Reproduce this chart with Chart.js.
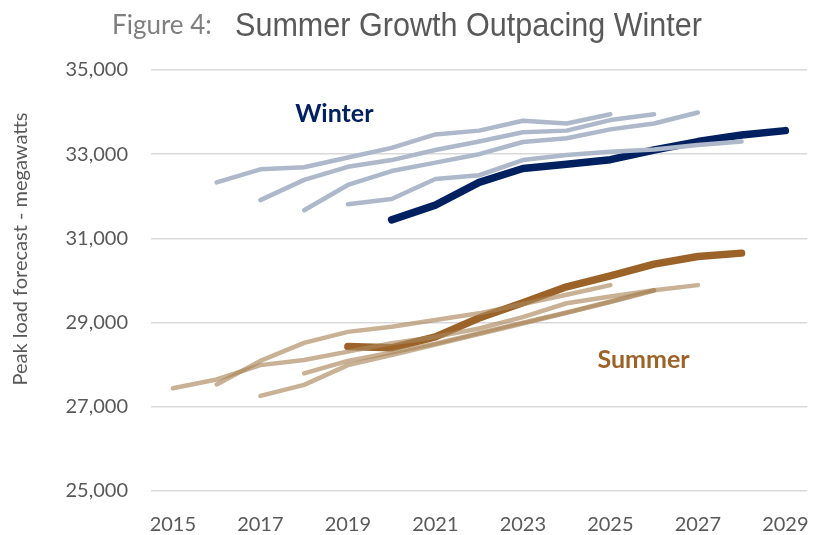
<!DOCTYPE html>
<html>
<head>
<meta charset="utf-8">
<script src="https://cdn.jsdelivr.net/npm/chart.js@4"></script>
<style>
  html, body { margin: 0; padding: 0; background: #fff; }
  #wrap { width: 823px; height: 535px; position: relative; }
</style>
</head>
<body>
<div id="wrap"><canvas id="myChart" width="823" height="535"></canvas></div>
<script>
// years on the x axis
var years = [2015, 2016, 2017, 2018, 2019, 2020, 2021, 2022, 2023, 2024, 2025, 2026, 2027, 2028, 2029];

// winter forecasts (start year, values)
var winter2016 = [32330, 32640, 32690, 32920, 33150, 33470, 33560, 33795, 33730, 33950];
var winter2017 = [31910, 32390, 32700, 32860, 33100, 33300, 33520, 33560, 33810, 33950];
var winter2018 = [31670, 32270, 32600, 32800, 33000, 33290, 33380, 33590, 33730, 33990];
var winter2019 = [31810, 31935, 32410, 32500, 32860, 32980, 33060, 33110, 33220, 33300];
var winter2020 = [31440, 31790, 32330, 32660, 32760, 32870, 33100, 33300, 33455, 33560];

// summer forecasts
var summer2015 = [27440, 27650, 27990, 28110, 28310, 28510, 28660, 28860, 29130, 29460, 29620, 29770];
var summer2016 = [27530, 28090, 28520, 28780, 28900, 29060, 29220, 29440, 29660, 29890];
var summer2017 = [27260, 27520, 27990, 28230, 28480, 28730, 28980, 29230, 29490, 29760];
var summer2018 = [27795, 28090, 28290, 28500, 28750, 29000, 29240, 29500, 29770, 29890];
var summer2019 = [28430, 28400, 28660, 29110, 29470, 29850, 30110, 30390, 30570, 30650];

var yTicks = [25000, 27000, 29000, 31000, 33000, 35000];

function pad(start, vals) {
  return years.map(function (y) {
    var i = y - start;
    return (i >= 0 && i < vals.length) ? vals[i] : null;
  });
}

var winterLight = '#adb9ca';
var winterDark = '#002060';
var summerLight = 'rgba(170,135,90,0.65)';
var summerDark = '#9c6329';

function line(data, color, width) {
  return {
    data: data,
    borderColor: color,
    borderWidth: width,
    pointRadius: 0,
    pointHoverRadius: 0,
    fill: false,
    tension: 0,
    borderCapStyle: 'round',
    borderJoinStyle: 'round'
  };
}

var textPlugin = {
  id: 'texts',
  afterDraw: function (chart) {
    var c = chart.ctx;
    var x = chart.scales.x, y = chart.scales.y;
    c.save();
    // title
    c.textBaseline = 'alphabetic';
    c.textAlign = 'left';
    c.fillStyle = '#7f7f7f';
    c.font = '26px Lato';
    c.fillText('Figure 4:', 112, 34);
    c.fillStyle = '#595959';
    c.font = '34px "Liberation Sans"';
    var t = 'Summer Growth Outpacing Winter';
    var w = c.measureText(t).width;
    c.translate(235, 36);
    c.scale(467 / w, 1);
    c.fillText(t, 0, 0);
    c.restore();

    c.save();
    // y axis title
    c.translate(21, 249);
    c.rotate(-Math.PI / 2);
    c.textAlign = 'center';
    c.textBaseline = 'middle';
    c.fillStyle = '#595959';
    c.font = '20px Lato';
    c.fillText('Peak load forecast - megawatts', 0, 0);
    c.restore();

    c.save();
    c.textAlign = 'center';
    c.textBaseline = 'middle';
    c.font = 'bold 25px Lato';
    c.fillStyle = winterDark;
    c.fillText('Winter', x.getPixelForValue(3.69), y.getPixelForValue(33954));
    c.fillStyle = summerDark;
    c.fillText('Summer', x.getPixelForValue(10.76), y.getPixelForValue(28111));
    c.restore();
  }
};

var ctx = document.getElementById('myChart');

new Chart(ctx, {
  type: 'line',
  data: {
    labels: years,
    datasets: [
      line(pad(2016, winter2016), winterLight, 4.5),
      line(pad(2017, winter2017), winterLight, 4.5),
      line(pad(2018, winter2018), winterLight, 4.5),
      line(pad(2019, winter2019), winterLight, 4.5),
      line(pad(2015, summer2015), summerLight, 4.5),
      line(pad(2016, summer2016), summerLight, 4.5),
      line(pad(2017, summer2017), summerLight, 4.5),
      line(pad(2018, summer2018), summerLight, 4.5),
      line(pad(2020, winter2020), winterDark, 7.5),
      line(pad(2019, summer2019), summerDark, 7.5)
    ]
  },
  options: {
    responsive: false,
    animation: false,
    layout: { padding: { top: 70, right: 14, left: 0, bottom: 0 } },
    plugins: {
      legend: { display: false },
      tooltip: { enabled: false },
      title: { display: false }
    },
    scales: {
      x: {
        type: 'category',
        offset: true,
        grid: { display: false },
        border: { display: false },
        ticks: {
          autoSkip: false,
          maxRotation: 0,
          padding: 14,
          color: '#595959',
          font: { family: 'Lato', size: 20 },
          callback: function (v, i) {
            return years[i] % 2 === 1 ? String(years[i]) : '';
          }
        },
        afterFit: function (s) { s.height = 44; }
      },
      y: {
        min: 25000,
        max: 35000,
        afterBuildTicks: function (s) {
          s.ticks = yTicks.map(function (v) { return { value: v }; });
        },
        grid: { color: '#d9d9d9', lineWidth: 1.5, drawTicks: false },
        border: { display: false },
        ticks: {
          padding: 23,
          color: '#595959',
          font: { family: 'Lato', size: 20 },
          callback: function (v) { return v.toLocaleString('en-US'); }
        },
        afterFit: function (s) { s.width = 151; }
      }
    }
  },
  plugins: [textPlugin]
});
</script>
</body>
</html>
